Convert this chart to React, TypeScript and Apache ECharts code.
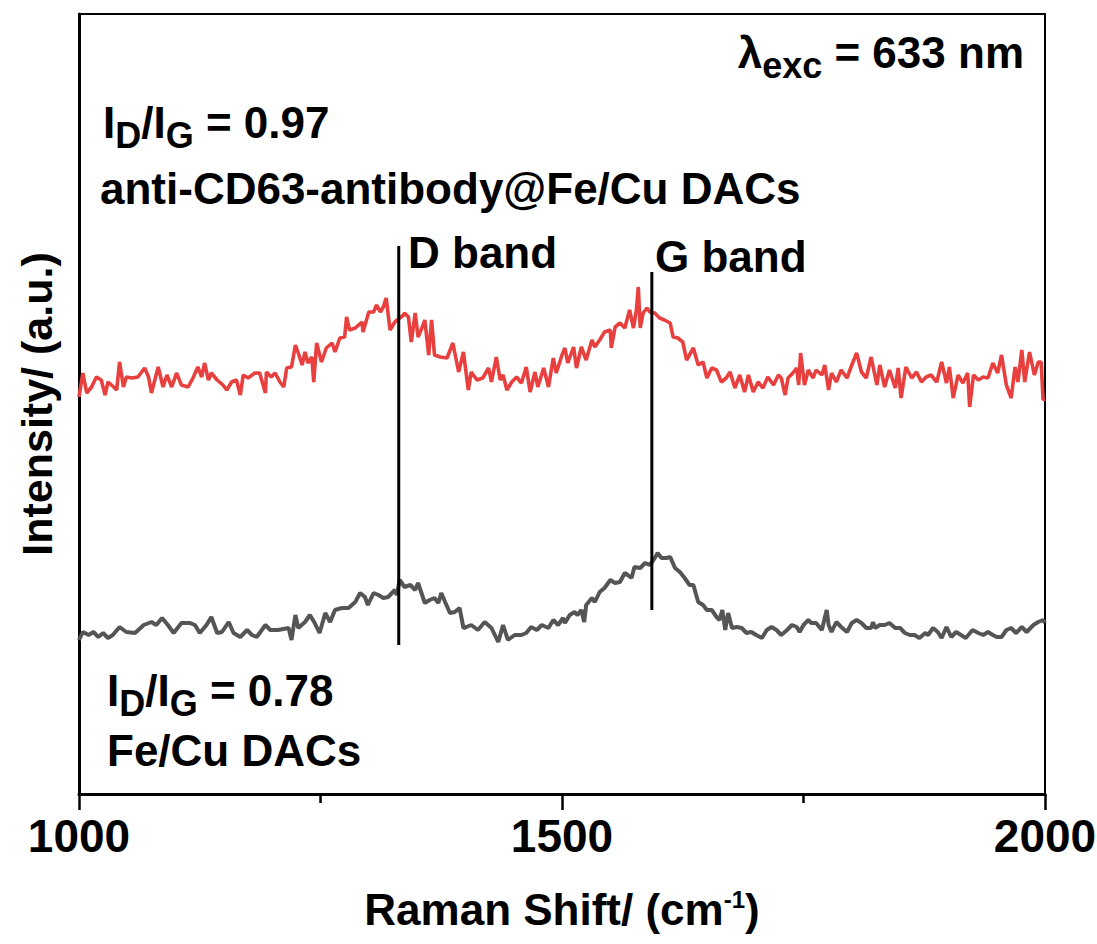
import React, { useEffect, useRef } from "react";
import * as echarts from "echarts";

// Raman shift (cm-1) and intensity (a.u.)
const redX = [1000,1004,1008,1013,1018,1023,1027,1030,1036,1039,1042,1046,1049,1055,1061,1068,1072,1075,1082,1087,1091,1096,1101,1106,1113,1118,1123,1127,1130,1134,1137,1143,1149,1153,1158,1163,1167,1170,1175,1182,1187,1193,1194,1199,1203,1208,1212,1215,1220,1224,1227,1231,1234,1237,1241,1243,1246,1251,1256,1262,1265,1270,1275,1277,1280,1286,1293,1294,1300,1305,1308,1312,1315,1318,1322,1327,1332,1336,
1337,1341,1344,1348,1351,1355,1358,1362,1365,1368,1374,1381,1387,1393,1398,1403,1406,1412,1418,1424,1427,1432,1436,1439,1443,1448,1453,1458,1463,1467,1472,1475,1481,1486,1491,1494,1500,1503,1506,1512,1515,1520,1525,1531,1534,1539,1544,1550,1551,1555,1560,1565,1570,1574,1577,1579,1581,1584,1588,1591,1596,1601,1606,1612,1615,1620,1625,1629,1636,1641,1646,1650,1655,1660,1665,1670,
1674,1679,1684,1689,1693,1698,1703,1708,1713,1719,1724,1727,1731,1734,1739,1743,1745,1747,1751,1755,1760,1763,1769,1772,1776,1779,1784,1789,1795,1800,1805,1810,1815,1820,1826,1829,1834,1839,1845,1848,1851,1856,1862,1867,1872,1877,1882,1888,1893,1898,1901,1905,1910,1915,1920,1922,1926,1931,1936,1941,1946,1951,1955,1960,1965,1969,1972,1976,1979,1984,1989,1993,1996,1998,2000];
const redY = [397,421,401,407,417,414,399,412,407,404,432,407,417,416,417,426,417,401,427,407,419,407,421,409,407,416,427,417,431,414,421,414,409,404,412,414,399,419,416,421,421,401,422,417,421,412,407,426,427,449,441,429,442,431,437,412,451,432,446,451,442,456,457,477,464,466,472,462,482,482,489,482,487,496,464,472,476,479,
481,477,452,481,457,466,474,439,474,439,437,436,451,422,442,404,422,414,416,426,412,437,414,419,404,412,417,411,427,402,422,407,426,407,436,421,439,446,431,447,426,447,434,454,447,454,462,464,446,467,471,466,484,466,484,507,466,481,486,482,481,476,474,471,457,456,452,434,446,429,432,416,426,424,412,416,
422,406,419,402,419,402,412,406,417,409,419,416,399,416,421,426,409,441,409,424,416,424,419,429,404,421,412,424,416,429,441,422,416,437,409,429,407,424,406,426,396,427,416,422,412,417,419,412,432,411,427,396,419,411,421,387,419,414,417,416,431,421,439,409,396,427,412,444,412,442,419,432,432,394,395];

const grayX = [1000,1004,1010,1015,1020,1025,1030,1035,1042,1049,1058,1067,1075,1080,1086,1092,1098,1106,1115,1120,1125,1132,1137,1143,1148,1155,1160,1167,1174,1179,1184,1193,1198,1206,1217,1220,1224,1227,1234,1239,1244,1249,1255,1260,1265,1272,1279,1286,1291,1296,1299,1305,1310,1315,1320,1324,1327,1329,1332,1337,1343,1348,1351,1358,1363,1368,1372,1375,1379,1384,1389,1394,1398,1401,1406,1413,1420,1427,1434,1439,1444,1451,1458,1463,1468,1474,1479,1486,1491,1496,1501,
1503,1508,1513,1516,1520,1523,1525,1531,1534,1539,1544,1550,1555,1560,1565,1568,1572,1575,1581,1586,1591,1596,1599,1603,1608,1612,1617,1622,1627,1632,1636,1641,1646,1650,1655,1660,1663,1666,1669,1672,1676,1681,1686,1691,1696,1701,1707,1712,1717,1722,1727,1733,1738,1743,1746,1750,1755,1758,1763,1769,1774,1776,1779,1784,1789,1795,1800,1805,1810,1815,1820,1822,1824,1829,1834,1839,1845,1850,1855,1860,1865,1870,1876,1879,1884,1889,1893,1898,1903,1908,1913,1918,1925,1931,1936,1941,1946,1950,1955,1960,1965,1970,1976,1981,1988,1993,1998,2000];
const grayY = [154,162,159,162,157,161,156,159,167,162,161,169,172,169,176,169,161,171,171,169,161,169,177,161,162,172,161,157,164,159,157,169,164,164,166,154,179,166,172,179,171,161,181,172,184,186,186,192,201,197,189,201,199,196,197,201,204,199,214,207,209,204,211,191,194,196,191,201,192,181,182,186,166,167,169,164,172,166,152,169,154,159,159,161,167,164,169,166,174,169,176,
171,179,182,179,184,172,189,196,192,202,206,214,211,212,221,219,216,227,226,231,229,236,241,236,236,237,226,222,216,209,209,192,189,184,184,177,174,184,164,181,166,167,166,161,162,159,156,164,167,164,159,164,169,167,162,169,174,171,171,164,184,169,162,172,167,162,171,174,171,166,166,172,166,169,169,171,166,166,161,159,159,156,161,159,166,162,156,167,157,162,159,156,164,161,159,162,159,157,157,164,166,161,167,162,169,172,174,171];

// band marker lines: position, top and bottom (a.u.)
const bandNames = ["D band", "G band"];
const bandX = [1331, 1593];
const bandTop = [548, 522];
const bandBottom = [149, 184];

const xTicks = [1000, 1500, 2000];

const FONT = '"Liberation Sans", Arial, Helvetica, sans-serif';

export default function App() {
  const ref = useRef<HTMLDivElement>(null);
  useEffect(() => {
    if (!ref.current) return;
    const chart = echarts.init(ref.current, null, { renderer: "svg" });
    const pairs = (xs: number[], ys: number[]) => xs.map((x, i) => [x, ys[i]]);
    const m = { fontSize: 44, fontWeight: "bold", fontFamily: FONT, fill: "#000", color: "#000", lineHeight: 44, verticalAlign: "top" };
    const s = { fontSize: 36, fontWeight: "bold", fontFamily: FONT, fill: "#000", color: "#000", lineHeight: 53, verticalAlign: "bottom" };
    const txt = (text: string, x: number, y: number, align = "left") => ({
      type: "text",
      x,
      y,
      style: {
        text,
        align,
        verticalAlign: "middle",
        fontSize: 44,
        fontWeight: "bold",
        fontFamily: FONT,
        fill: "#000",
        rich: { m, s },
      },
    });
    // texts with subscripts have a taller rich line (53 instead of 44): shift by half the difference
    const d = 4.5;
    const option: any = {
      animation: false,
      backgroundColor: "#fff",
      grid: {
        left: 79, right: 52, top: 14, bottom: 150,
        show: true, borderColor: "#000", borderWidth: 2,
        containLabel: false, outerBoundsMode: "none",
      },
      xAxis: {
        type: "value",
        min: xTicks[0],
        max: xTicks[xTicks.length - 1],
        interval: xTicks[1] - xTicks[0],
        axisLine: { lineStyle: { color: "#000", width: 3 } },
        axisTick: { length: 16, lineStyle: { color: "#000", width: 2.5 } },
        minorTick: { show: true, splitNumber: 2, length: 9, lineStyle: { color: "#000", width: 2.5 } },
        splitLine: { show: false },
        axisLabel: {
          fontSize: 46, fontWeight: "bold", fontFamily: FONT, color: "#000", margin: 19,
          showMinLabel: true, showMaxLabel: true,
          formatter: (v: number) => String(v),
        },
        name: "{a|Raman Shift/ (cm}{u|-1}{a|)}",
        nameLocation: "middle",
        nameGap: 93,
        nameTextStyle: {
          rich: {
            a: { fontSize: 44, fontWeight: "bold", fontFamily: FONT, color: "#000", lineHeight: 44 },
            u: { fontSize: 24, fontWeight: "bold", fontFamily: FONT, color: "#000", lineHeight: 28, verticalAlign: "top" },
          },
        },
      },
      yAxis: {
        type: "value",
        min: 0,
        max: 780,
        axisLine: { show: true, lineStyle: { color: "#000", width: 3 } },
        axisTick: { show: false },
        axisLabel: { show: false },
        splitLine: { show: false },
        name: "Intensity/ (a.u.)",
        nameLocation: "middle",
        nameGap: 21,
        nameTextStyle: { fontSize: 43, fontWeight: "bold", fontFamily: FONT, color: "#000" },
      },
      series: [
        {
          name: "anti-CD63-antibody@Fe/Cu DACs",
          type: "line",
          data: pairs(redX, redY),
          showSymbol: false,
          symbol: "none",
          lineStyle: { color: "#E8403F", width: 3.6 },
        },
        {
          name: "Fe/Cu DACs",
          type: "line",
          data: pairs(grayX, grayY),
          showSymbol: false,
          symbol: "none",
          lineStyle: { color: "#555555", width: 4 },
        },
        ...bandX.map((bx, i) => ({
          name: bandNames[i],
          type: "line",
          data: [[bx, bandTop[i]], [bx, bandBottom[i]]],
          showSymbol: false,
          symbol: "none",
          lineStyle: { color: "#000", width: 3 },
          z: 5,
        })),
      ],
      graphic: [
        txt("{m|λ}{s|exc}{m| = 633 nm}", 1024, 52 + d, "right"),
        txt("{m|I}{s|D}{m|/I}{s|G}{m| = 0.97}", 103, 122 + d, "left"),
        txt("{m|anti-CD63-antibody@Fe/Cu DACs}", 100, 188, "left"),
        txt("{m|D band}", 408, 252, "left"),
        txt("{m|G band}", 655, 256, "left"),
        txt("{m|I}{s|D}{m|/I}{s|G}{m| = 0.78}", 107, 690 + d, "left"),
        txt("{m|Fe/Cu DACs}", 107, 750, "left"),
      ],
    };
    chart.setOption(option);
    return () => chart.dispose();
  }, []);
  return <div ref={ref} style={{ position: "absolute", left: 0, top: 0, width: 1097, height: 944 }} />;
}
